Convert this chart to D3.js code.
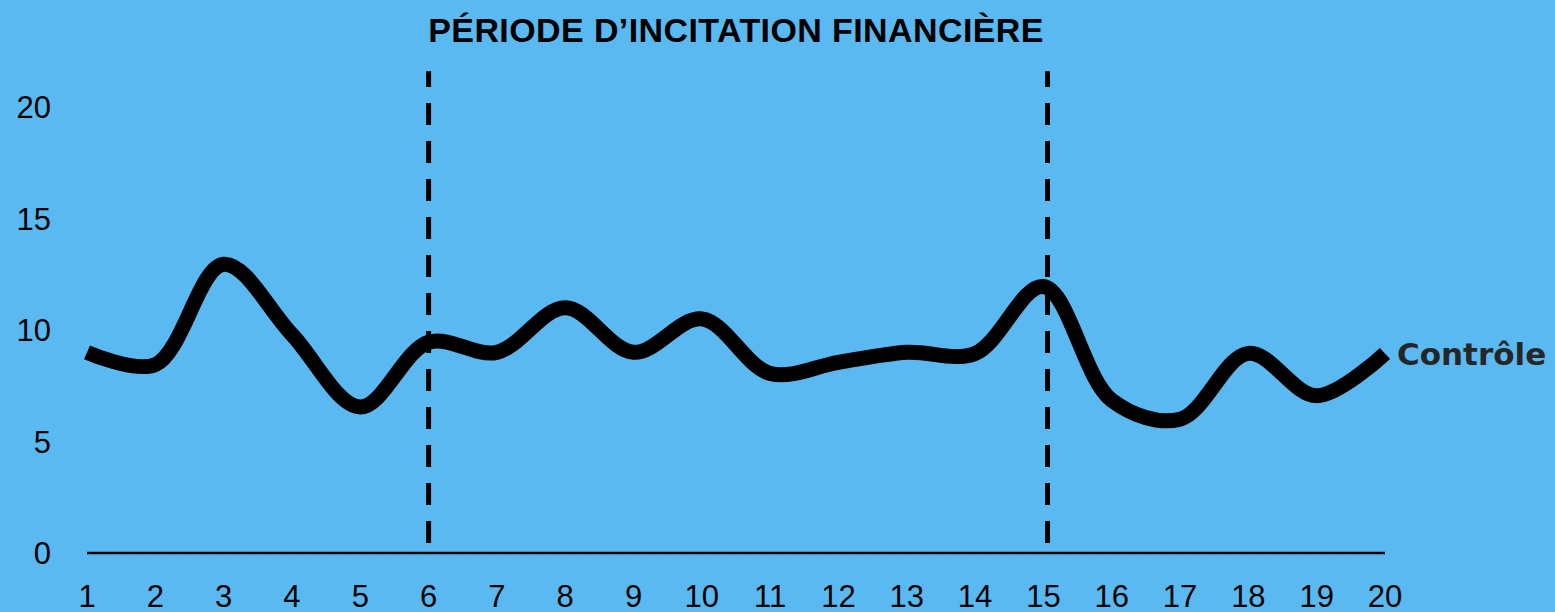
<!DOCTYPE html>
<html>
<head>
<meta charset="utf-8">
<script src="https://cdn.jsdelivr.net/npm/d3@7"></script>
<style>
  html, body { margin: 0; padding: 0; background: #5bb9f2; }
  svg { display: block; }
</style>
</head>
<body>
<div id="chart"></div>
<script>
// Chart data
const periods = [1, 2, 3, 4, 5, 6, 7, 8, 9, 10, 11, 12, 13, 14, 15, 16, 17, 18, 19, 20];
const controle = [9.0, 8.45, 12.95, 9.8, 6.55, 9.45, 9.0, 11.0, 9.0, 10.5,
                  8.05, 8.55, 9.0, 8.95, 11.95, 6.85, 6.0, 8.95, 7.05, 8.95];
const yTicks = [0, 5, 10, 15, 20];
const incentiveBounds = [6, 15.06]; // start / end of the financial incentive period
const incentiveSpan = [0.45, 21.6]; // vertical extent of the dashed markers (y units)
const seriesName = "Contrôle";
const title = "PÉRIODE D\u2019INCITATION FINANCIÈRE";

const width = 1555;
const height = 612;

const svg = d3
  .select("#chart")
  .append("svg")
  .attr("width", width)
  .attr("height", height);

svg.append("rect")
  .attr("width", width)
  .attr("height", height)
  .attr("fill", "#5bb9f2");

// Scales
const x = d3.scaleLinear().domain([1, 20]).range([87, 1385]);
const y = d3.scaleLinear().domain([0, 20]).range([553, 107]);

// Y tick labels (no axis line)
svg.append("g")
  .selectAll("text")
  .data(yTicks)
  .enter()
  .append("text")
  .attr("x", 51)
  .attr("y", (d) => y(d))
  .attr("dy", "0.36em")
  .attr("text-anchor", "end")
  .style("font-family", "'Liberation Sans', Arial, sans-serif")
  .style("font-size", "31px")
  .attr("fill", "#000")
  .text((d) => d);

// X axis baseline
svg.append("line")
  .attr("x1", x(1))
  .attr("x2", x(20))
  .attr("y1", y(0))
  .attr("y2", y(0))
  .attr("stroke", "#000")
  .attr("stroke-width", 2.5);

// X tick labels
svg.append("g")
  .selectAll("text")
  .data(periods)
  .enter()
  .append("text")
  .attr("x", (d) => x(d))
  .attr("y", 607)
  .attr("text-anchor", "middle")
  .style("font-family", "'Liberation Sans', Arial, sans-serif")
  .style("font-size", "31px")
  .attr("fill", "#000")
  .text((d) => d);

// Dashed markers for the incentive period (drawn bottom-up so dashes start at the base)
svg.append("g")
  .selectAll("line")
  .data(incentiveBounds)
  .enter()
  .append("line")
  .attr("x1", (d) => x(d))
  .attr("x2", (d) => x(d))
  .attr("y1", y(incentiveSpan[0]))
  .attr("y2", y(incentiveSpan[1]))
  .attr("stroke", "#000")
  .attr("stroke-width", 5)
  .attr("stroke-dasharray", "22 16");

// Title
svg.append("text")
  .attr("x", (x(incentiveBounds[0]) + x(incentiveBounds[1])) / 2 - 2)
  .attr("y", 42)
  .attr("text-anchor", "middle")
  .style("font-family", "'Liberation Sans', Arial, sans-serif")
  .style("font-weight", "bold")
  .style("font-size", "34px")
  .style("letter-spacing", "0.4px")
  .attr("fill", "#000")
  .text(title);

// Smoothed series line
const line = d3
  .line()
  .x((d, i) => x(periods[i]))
  .y((d) => y(d))
  .curve(d3.curveCatmullRom.alpha(0.5));

svg.append("path")
  .datum(controle)
  .attr("d", line)
  .attr("fill", "none")
  .attr("stroke", "#000")
  .attr("stroke-width", 15)
  .attr("stroke-linejoin", "round")
  .attr("stroke-linecap", "butt");

// Series label at the end of the line
svg.append("text")
  .attr("x", x(20) + 12)
  .attr("y", y(controle[controle.length - 1]))
  .attr("dy", "0.36em")
  .style("font-family", "'DejaVu Sans', sans-serif")
  .style("font-weight", "bold")
  .style("font-size", "31px")
  .attr("fill", "#262626")
  .text(seriesName);
</script>
</body>
</html>
